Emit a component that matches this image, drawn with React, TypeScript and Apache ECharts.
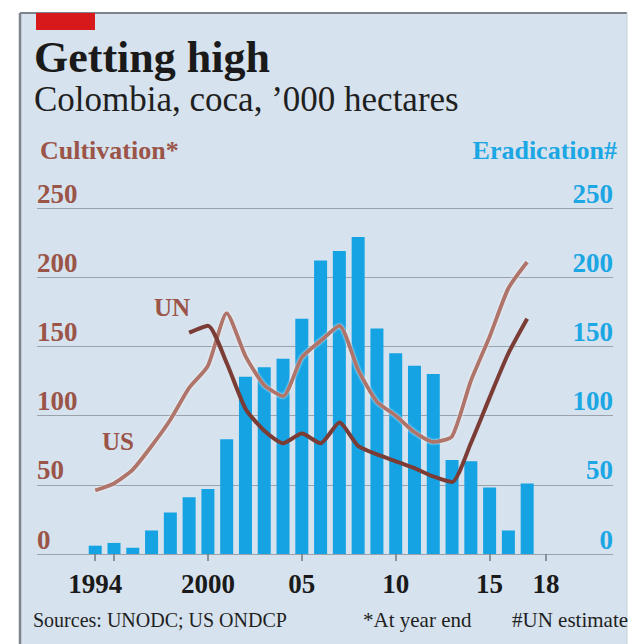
import React, { useEffect, useRef } from "react";
import * as echarts from "echarts";

const years = [1994, 1995, 1996, 1997, 1998, 1999, 2000, 2001, 2002, 2003, 2004, 2005, 2006, 2007, 2008, 2009, 2010, 2011, 2012, 2013, 2014, 2015, 2016, 2017];
const eradication = [6, 8, 4.5, 17, 30, 41, 47, 83, 128, 135, 141, 170, 212, 219, 229, 163, 145, 136, 130, 68, 67, 48, 17, 51];
const usCultivation = [46, 51, 61, 78, 97, 120, 136, 174, 143, 122, 114, 142, 154, 165, 133, 110, 100, 88, 81, 85, 125, 157, 192, 211];
const unYears = [1999, 2000, 2001, 2002, 2003, 2004, 2005, 2006, 2007, 2008, 2009, 2010, 2011, 2012, 2013, 2014, 2015, 2016, 2017];
const unCultivation = [160, 165, 138, 105, 89, 80, 87, 80, 95, 78, 72, 67, 62, 56, 52, 80, 113, 145, 170];
const tickYears = [1994, 1995, 2000, 2005, 2010, 2015, 2018];
const labelYears = [1994, 2000, 2005, 2010, 2015, 2018];

const SERIF = "'Liberation Serif', 'DejaVu Serif', serif";
const BROWN = "#9b5448";
const BLUE = "#1ba6e4";

export default function App() {
  const ref = useRef<HTMLDivElement>(null);
  useEffect(() => {
    if (!ref.current) return;
    const chart = echarts.init(ref.current, null, { renderer: "svg" });
    const option = {
      animation: false,
      backgroundColor: "#ffffff",
      grid: { left: 37, right: 22, top: 208, bottom: 90, containLabel: false },
      xAxis: {
        type: "value",
        min: 1990.9,
        max: 2021.57,
        axisLine: { show: false },
        splitLine: { show: false },
        axisTick: {
          show: true,
          customValues: tickYears,
          length: 7,
          lineStyle: { color: "#6f7880", width: 1.5 },
        },
        axisLabel: {
          customValues: labelYears,
          margin: 16,
          fontFamily: SERIF,
          fontWeight: "bold",
          fontSize: 27,
          color: "#1a1a1a",
          formatter: (v: number) => (v === 1994 || v === 2000 ? String(v) : String(v).slice(2)),
        },
      },
      yAxis: [
        {
          type: "value",
          min: 0,
          max: 250,
          interval: 50,
          position: "left",
          axisLine: { show: false },
          axisTick: { show: false },
          splitLine: { show: true, lineStyle: { color: "#9aa3ab", width: 1 } },
          axisLabel: {
            inside: true,
            margin: 0,
            verticalAlign: "bottom",
            padding: [0, 0, 1, 0],
            fontFamily: SERIF,
            fontWeight: "bold",
            fontSize: 27,
            color: BROWN,
          },
        },
        {
          type: "value",
          min: 0,
          max: 250,
          interval: 50,
          position: "right",
          axisLine: { show: false },
          axisTick: { show: false },
          splitLine: { show: false },
          axisLabel: {
            inside: true,
            margin: 0,
            verticalAlign: "bottom",
            padding: [0, 0, 1, 0],
            fontFamily: SERIF,
            fontWeight: "bold",
            fontSize: 27,
            color: BLUE,
          },
        },
      ],
      series: [
        {
          name: "Eradication",
          type: "bar",
          yAxisIndex: 1,
          barWidth: 13,
          itemStyle: { color: "#16a3e3" },
          data: years.map((y, i) => [y, eradication[i]]),
          z: 2,
        },
        {
          name: "US",
          type: "line",
          yAxisIndex: 0,
          smooth: 0.2,
          symbol: "none",
          lineStyle: { color: "#b0746b", width: 4, shadowColor: "rgba(255,255,255,0.8)", shadowBlur: 2 },
          data: years.map((y, i) => [y, usCultivation[i]]),
          z: 3,
        },
        {
          name: "UN",
          type: "line",
          yAxisIndex: 0,
          smooth: 0.2,
          symbol: "none",
          lineStyle: { color: "#7a3c35", width: 4 },
          data: unYears.map((y, i) => [y, unCultivation[i]]),
          z: 4,
        },
      ],
      graphic: [
        { type: "rect", z: -10, shape: { x: 20, y: 13, width: 607, height: 640 }, style: { fill: "#d6e2ed" } },
        { type: "line", z: -9, shape: { x1: 20, y1: 13, x2: 627, y2: 13 }, style: { stroke: "#7d848b", lineWidth: 2 } },
        { type: "line", z: -9, shape: { x1: 20, y1: 13, x2: 20, y2: 644 }, style: { stroke: "#7d848b", lineWidth: 2.5 } },
        { type: "line", z: -9, shape: { x1: 627, y1: 13, x2: 627, y2: 644 }, style: { stroke: "#c4cfd8", lineWidth: 1 } },
        { type: "rect", z: 5, shape: { x: 36, y: 13, width: 59, height: 17 }, style: { fill: "#d7191c" } },
        {
          type: "text", z: 5, x: 34, y: 57,
          style: { text: "Getting high", font: `bold 44px ${SERIF}`, fill: "#1a1a1a", textAlign: "left", textVerticalAlign: "middle" },
        },
        {
          type: "text", z: 5, x: 34, y: 99,
          style: { text: "Colombia, coca, \u2019000 hectares", font: `35px ${SERIF}`, fill: "#1f1f1f", textAlign: "left", textVerticalAlign: "middle" },
        },
        {
          type: "text", z: 5, x: 40, y: 150,
          style: { text: "Cultivation*", font: `bold 26px ${SERIF}`, fill: BROWN, textAlign: "left", textVerticalAlign: "middle" },
        },
        {
          type: "text", z: 5, x: 617, y: 150,
          style: { text: "Eradication#", font: `bold 26px ${SERIF}`, fill: BLUE, textAlign: "right", textVerticalAlign: "middle" },
        },
        {
          type: "text", z: 5, x: 172, y: 307,
          style: { text: "UN", font: `bold 25px ${SERIF}`, fill: BROWN, textAlign: "center", textVerticalAlign: "middle" },
        },
        {
          type: "text", z: 5, x: 118, y: 441,
          style: { text: "US", font: `bold 25px ${SERIF}`, fill: BROWN, textAlign: "center", textVerticalAlign: "middle" },
        },
        {
          type: "text", z: 5, x: 33, y: 620,
          style: { text: "Sources: UNODC; US ONDCP", font: `20px ${SERIF}`, fill: "#1f1f1f", textAlign: "left", textVerticalAlign: "middle" },
        },
        {
          type: "text", z: 5, x: 363, y: 620,
          style: { text: "*At year end", font: `21px ${SERIF}`, fill: "#1f1f1f", textAlign: "left", textVerticalAlign: "middle" },
        },
        {
          type: "text", z: 5, x: 512, y: 620,
          style: { text: "#UN estimate", font: `21px ${SERIF}`, fill: "#1f1f1f", textAlign: "left", textVerticalAlign: "middle" },
        },
      ],
    };
    chart.setOption(option as any);
    return () => chart.dispose();
  }, []);
  return <div ref={ref} style={{ position: "fixed", left: 0, top: 0, width: 635, height: 644 }} />;
}
